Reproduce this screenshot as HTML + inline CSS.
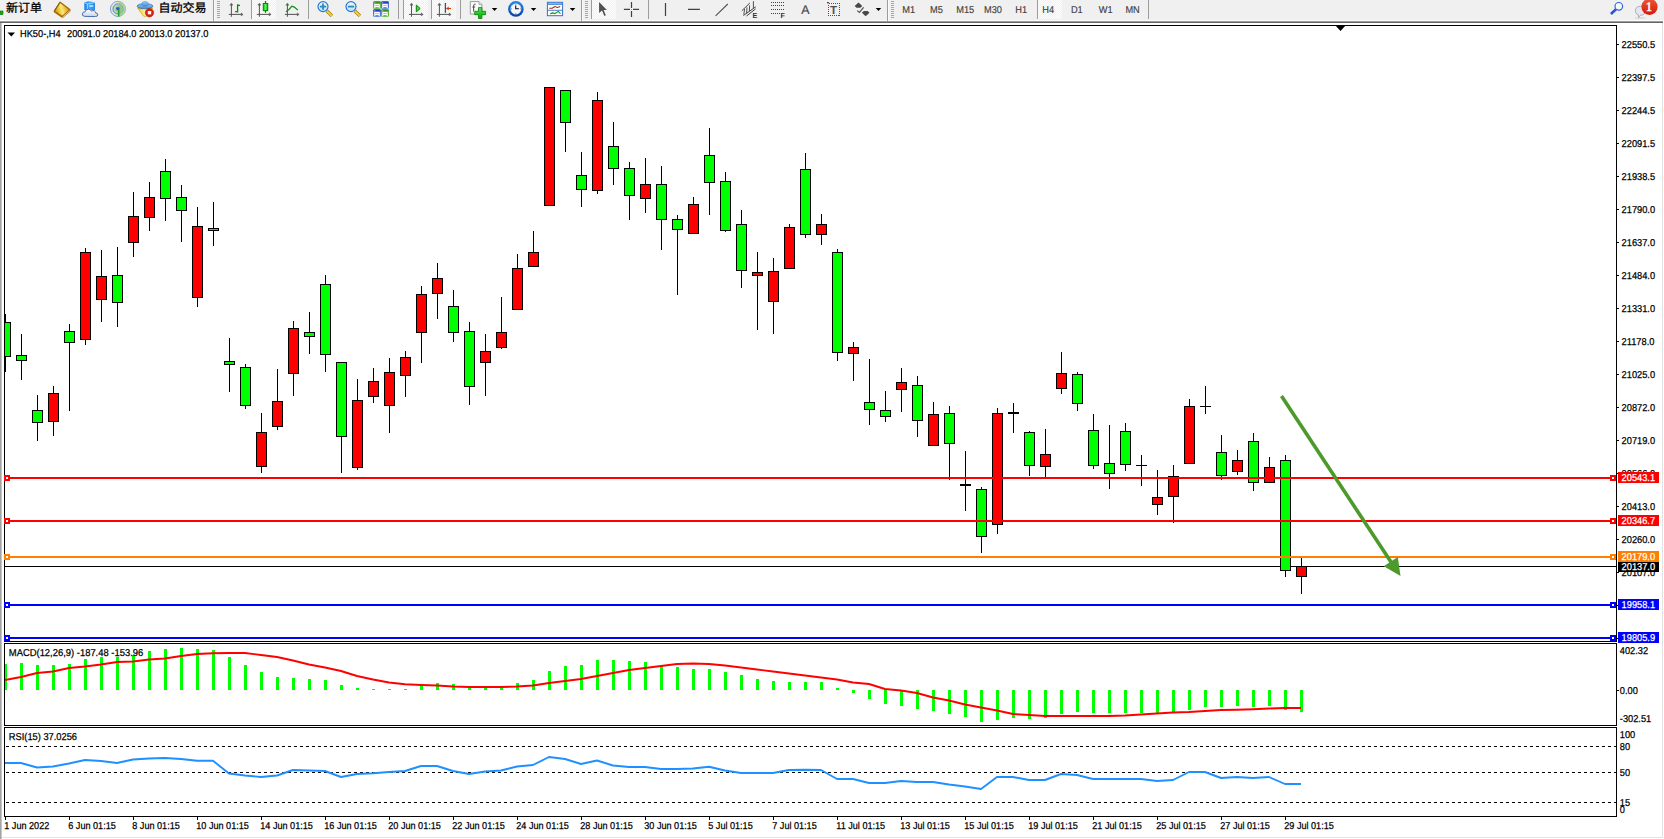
<!DOCTYPE html><html><head><meta charset="utf-8"><title>HK50-,H4</title>
<style>
html,body{margin:0;padding:0;background:#fff;}
body{width:1664px;height:839px;overflow:hidden;position:relative;font-family:"Liberation Sans","Noto Sans CJK SC",sans-serif;}
svg{position:absolute;left:0;top:0;display:block}
text{font-family:"Liberation Sans","Noto Sans CJK SC",sans-serif;text-rendering:geometricPrecision}
.t{font-size:10px;fill:#000;stroke:#000;stroke-width:.25px}
.w{font-size:10px;fill:#fff;stroke:#fff;stroke-width:.25px}
.tf{font-size:10px;fill:#404040;stroke:#404040;stroke-width:.15px}
.cj{font-size:12px;fill:#000;stroke:#000;stroke-width:.3px;font-family:"Liberation Sans","Noto Sans CJK SC",sans-serif}
</style></head><body>
<svg width="1664" height="839" viewBox="0 0 1664 839">
<rect x="0" y="0" width="1664" height="839" fill="#fff"/>
<rect x="0" y="0" width="1664" height="21" fill="#f0f0f0"/>
<g shape-rendering="crispEdges">
<rect x="0" y="20" width="1664" height="1" fill="#fbfbfb"/><rect x="0" y="21" width="1663" height="1" fill="#9c9c9c"/><rect x="0" y="22" width="1663" height="1" fill="#666666"/>
<rect x="0" y="23" width="1" height="816" fill="#a4a4a4"/><rect x="1" y="23" width="1" height="816" fill="#c6c6c6"/>
<rect x="1662" y="23" width="1" height="815" fill="#e3e3e3"/>
<rect x="2" y="837" width="1661" height="1" fill="#e3e3e3"/>
<path d="M4.5 25.5H1616.5V641.5H4.5Z" fill="none" stroke="#000" stroke-width="1"/>
<path d="M4.5 643.5H1616.5V725.5H4.5Z" fill="none" stroke="#000" stroke-width="1"/>
<path d="M4.5 727.5H1616.5V816.5H4.5Z" fill="none" stroke="#000" stroke-width="1"/>
</g>
<g shape-rendering="crispEdges">
<rect x="5" y="566" width="1611" height="1" fill="#000"/>
<clipPath id="cp"><rect x="5" y="26" width="1611" height="615"/></clipPath><g clip-path="url(#cp)">
<rect x="5" y="314" width="1" height="58" fill="#000"/>
<rect x="0" y="322" width="11" height="35" fill="#000"/>
<rect x="1" y="323" width="9" height="33" fill="#00ff00"/>
<rect x="21" y="334" width="1" height="46" fill="#000"/>
<rect x="16" y="355" width="11" height="6" fill="#000"/>
<rect x="17" y="356" width="9" height="4" fill="#00ff00"/>
<rect x="37" y="395" width="1" height="46" fill="#000"/>
<rect x="32" y="410" width="11" height="13" fill="#000"/>
<rect x="33" y="411" width="9" height="11" fill="#00ff00"/>
<rect x="53" y="386" width="1" height="50" fill="#000"/>
<rect x="48" y="393" width="11" height="29" fill="#000"/>
<rect x="49" y="394" width="9" height="27" fill="#ff0000"/>
<rect x="69" y="324" width="1" height="87" fill="#000"/>
<rect x="64" y="331" width="11" height="12" fill="#000"/>
<rect x="65" y="332" width="9" height="10" fill="#00ff00"/>
<rect x="85" y="248" width="1" height="97" fill="#000"/>
<rect x="80" y="252" width="11" height="88" fill="#000"/>
<rect x="81" y="253" width="9" height="86" fill="#ff0000"/>
<rect x="101" y="250" width="1" height="72" fill="#000"/>
<rect x="96" y="276" width="11" height="24" fill="#000"/>
<rect x="97" y="277" width="9" height="22" fill="#ff0000"/>
<rect x="117" y="247" width="1" height="80" fill="#000"/>
<rect x="112" y="275" width="11" height="28" fill="#000"/>
<rect x="113" y="276" width="9" height="26" fill="#00ff00"/>
<rect x="133" y="192" width="1" height="65" fill="#000"/>
<rect x="128" y="216" width="11" height="27" fill="#000"/>
<rect x="129" y="217" width="9" height="25" fill="#ff0000"/>
<rect x="149" y="182" width="1" height="49" fill="#000"/>
<rect x="144" y="197" width="11" height="21" fill="#000"/>
<rect x="145" y="198" width="9" height="19" fill="#ff0000"/>
<rect x="165" y="159" width="1" height="62" fill="#000"/>
<rect x="160" y="171" width="11" height="28" fill="#000"/>
<rect x="161" y="172" width="9" height="26" fill="#00ff00"/>
<rect x="181" y="185" width="1" height="57" fill="#000"/>
<rect x="176" y="197" width="11" height="14" fill="#000"/>
<rect x="177" y="198" width="9" height="12" fill="#00ff00"/>
<rect x="197" y="207" width="1" height="100" fill="#000"/>
<rect x="192" y="226" width="11" height="72" fill="#000"/>
<rect x="193" y="227" width="9" height="70" fill="#ff0000"/>
<rect x="213" y="202" width="1" height="44" fill="#000"/>
<rect x="208" y="228" width="11" height="3" fill="#000"/>
<rect x="209" y="229" width="9" height="1" fill="#00ff00"/>
<rect x="229" y="338" width="1" height="54" fill="#000"/>
<rect x="224" y="361" width="11" height="4" fill="#000"/>
<rect x="225" y="362" width="9" height="2" fill="#00ff00"/>
<rect x="245" y="364" width="1" height="45" fill="#000"/>
<rect x="240" y="367" width="11" height="39" fill="#000"/>
<rect x="241" y="368" width="9" height="37" fill="#00ff00"/>
<rect x="261" y="413" width="1" height="60" fill="#000"/>
<rect x="256" y="432" width="11" height="35" fill="#000"/>
<rect x="257" y="433" width="9" height="33" fill="#ff0000"/>
<rect x="277" y="369" width="1" height="61" fill="#000"/>
<rect x="272" y="401" width="11" height="26" fill="#000"/>
<rect x="273" y="402" width="9" height="24" fill="#ff0000"/>
<rect x="293" y="321" width="1" height="75" fill="#000"/>
<rect x="288" y="328" width="11" height="46" fill="#000"/>
<rect x="289" y="329" width="9" height="44" fill="#ff0000"/>
<rect x="309" y="312" width="1" height="42" fill="#000"/>
<rect x="304" y="332" width="11" height="5" fill="#000"/>
<rect x="305" y="333" width="9" height="3" fill="#00ff00"/>
<rect x="325" y="275" width="1" height="97" fill="#000"/>
<rect x="320" y="284" width="11" height="71" fill="#000"/>
<rect x="321" y="285" width="9" height="69" fill="#00ff00"/>
<rect x="341" y="362" width="1" height="111" fill="#000"/>
<rect x="336" y="362" width="11" height="75" fill="#000"/>
<rect x="337" y="363" width="9" height="73" fill="#00ff00"/>
<rect x="357" y="379" width="1" height="91" fill="#000"/>
<rect x="352" y="400" width="11" height="68" fill="#000"/>
<rect x="353" y="401" width="9" height="66" fill="#ff0000"/>
<rect x="373" y="368" width="1" height="35" fill="#000"/>
<rect x="368" y="381" width="11" height="16" fill="#000"/>
<rect x="369" y="382" width="9" height="14" fill="#ff0000"/>
<rect x="389" y="358" width="1" height="75" fill="#000"/>
<rect x="384" y="372" width="11" height="34" fill="#000"/>
<rect x="385" y="373" width="9" height="32" fill="#ff0000"/>
<rect x="405" y="351" width="1" height="46" fill="#000"/>
<rect x="400" y="357" width="11" height="19" fill="#000"/>
<rect x="401" y="358" width="9" height="17" fill="#ff0000"/>
<rect x="421" y="286" width="1" height="77" fill="#000"/>
<rect x="416" y="294" width="11" height="39" fill="#000"/>
<rect x="417" y="295" width="9" height="37" fill="#ff0000"/>
<rect x="437" y="263" width="1" height="56" fill="#000"/>
<rect x="432" y="278" width="11" height="16" fill="#000"/>
<rect x="433" y="279" width="9" height="14" fill="#ff0000"/>
<rect x="453" y="290" width="1" height="52" fill="#000"/>
<rect x="448" y="306" width="11" height="27" fill="#000"/>
<rect x="449" y="307" width="9" height="25" fill="#00ff00"/>
<rect x="469" y="322" width="1" height="83" fill="#000"/>
<rect x="464" y="331" width="11" height="56" fill="#000"/>
<rect x="465" y="332" width="9" height="54" fill="#00ff00"/>
<rect x="485" y="334" width="1" height="62" fill="#000"/>
<rect x="480" y="351" width="11" height="12" fill="#000"/>
<rect x="481" y="352" width="9" height="10" fill="#ff0000"/>
<rect x="501" y="297" width="1" height="52" fill="#000"/>
<rect x="496" y="332" width="11" height="16" fill="#000"/>
<rect x="497" y="333" width="9" height="14" fill="#ff0000"/>
<rect x="517" y="254" width="1" height="56" fill="#000"/>
<rect x="512" y="268" width="11" height="42" fill="#000"/>
<rect x="513" y="269" width="9" height="40" fill="#ff0000"/>
<rect x="533" y="231" width="1" height="36" fill="#000"/>
<rect x="528" y="252" width="11" height="15" fill="#000"/>
<rect x="529" y="253" width="9" height="13" fill="#ff0000"/>
<rect x="549" y="87" width="1" height="119" fill="#000"/>
<rect x="544" y="87" width="11" height="119" fill="#000"/>
<rect x="545" y="88" width="9" height="117" fill="#ff0000"/>
<rect x="565" y="90" width="1" height="62" fill="#000"/>
<rect x="560" y="90" width="11" height="33" fill="#000"/>
<rect x="561" y="91" width="9" height="31" fill="#00ff00"/>
<rect x="581" y="152" width="1" height="55" fill="#000"/>
<rect x="576" y="175" width="11" height="15" fill="#000"/>
<rect x="577" y="176" width="9" height="13" fill="#00ff00"/>
<rect x="597" y="92" width="1" height="102" fill="#000"/>
<rect x="592" y="100" width="11" height="91" fill="#000"/>
<rect x="593" y="101" width="9" height="89" fill="#ff0000"/>
<rect x="613" y="122" width="1" height="63" fill="#000"/>
<rect x="608" y="146" width="11" height="23" fill="#000"/>
<rect x="609" y="147" width="9" height="21" fill="#00ff00"/>
<rect x="629" y="162" width="1" height="58" fill="#000"/>
<rect x="624" y="168" width="11" height="28" fill="#000"/>
<rect x="625" y="169" width="9" height="26" fill="#00ff00"/>
<rect x="645" y="158" width="1" height="55" fill="#000"/>
<rect x="640" y="184" width="11" height="15" fill="#000"/>
<rect x="641" y="185" width="9" height="13" fill="#ff0000"/>
<rect x="661" y="166" width="1" height="84" fill="#000"/>
<rect x="656" y="184" width="11" height="36" fill="#000"/>
<rect x="657" y="185" width="9" height="34" fill="#00ff00"/>
<rect x="677" y="215" width="1" height="80" fill="#000"/>
<rect x="672" y="219" width="11" height="11" fill="#000"/>
<rect x="673" y="220" width="9" height="9" fill="#00ff00"/>
<rect x="693" y="197" width="1" height="37" fill="#000"/>
<rect x="688" y="204" width="11" height="30" fill="#000"/>
<rect x="689" y="205" width="9" height="28" fill="#ff0000"/>
<rect x="709" y="128" width="1" height="87" fill="#000"/>
<rect x="704" y="155" width="11" height="28" fill="#000"/>
<rect x="705" y="156" width="9" height="26" fill="#00ff00"/>
<rect x="725" y="172" width="1" height="60" fill="#000"/>
<rect x="720" y="181" width="11" height="50" fill="#000"/>
<rect x="721" y="182" width="9" height="48" fill="#00ff00"/>
<rect x="741" y="210" width="1" height="78" fill="#000"/>
<rect x="736" y="224" width="11" height="47" fill="#000"/>
<rect x="737" y="225" width="9" height="45" fill="#00ff00"/>
<rect x="757" y="252" width="1" height="78" fill="#000"/>
<rect x="752" y="272" width="11" height="4" fill="#000"/>
<rect x="753" y="273" width="9" height="2" fill="#ff0000"/>
<rect x="773" y="258" width="1" height="76" fill="#000"/>
<rect x="768" y="271" width="11" height="31" fill="#000"/>
<rect x="769" y="272" width="9" height="29" fill="#ff0000"/>
<rect x="789" y="224" width="1" height="45" fill="#000"/>
<rect x="784" y="227" width="11" height="42" fill="#000"/>
<rect x="785" y="228" width="9" height="40" fill="#ff0000"/>
<rect x="805" y="153" width="1" height="85" fill="#000"/>
<rect x="800" y="169" width="11" height="66" fill="#000"/>
<rect x="801" y="170" width="9" height="64" fill="#00ff00"/>
<rect x="821" y="214" width="1" height="31" fill="#000"/>
<rect x="816" y="224" width="11" height="11" fill="#000"/>
<rect x="817" y="225" width="9" height="9" fill="#ff0000"/>
<rect x="837" y="249" width="1" height="112" fill="#000"/>
<rect x="832" y="252" width="11" height="101" fill="#000"/>
<rect x="833" y="253" width="9" height="99" fill="#00ff00"/>
<rect x="853" y="342" width="1" height="39" fill="#000"/>
<rect x="848" y="347" width="11" height="7" fill="#000"/>
<rect x="849" y="348" width="9" height="5" fill="#ff0000"/>
<rect x="869" y="359" width="1" height="66" fill="#000"/>
<rect x="864" y="402" width="11" height="8" fill="#000"/>
<rect x="865" y="403" width="9" height="6" fill="#00ff00"/>
<rect x="885" y="391" width="1" height="31" fill="#000"/>
<rect x="880" y="410" width="11" height="7" fill="#000"/>
<rect x="881" y="411" width="9" height="5" fill="#00ff00"/>
<rect x="901" y="368" width="1" height="44" fill="#000"/>
<rect x="896" y="382" width="11" height="8" fill="#000"/>
<rect x="897" y="383" width="9" height="6" fill="#ff0000"/>
<rect x="917" y="376" width="1" height="61" fill="#000"/>
<rect x="912" y="385" width="11" height="36" fill="#000"/>
<rect x="913" y="386" width="9" height="34" fill="#00ff00"/>
<rect x="933" y="402" width="1" height="44" fill="#000"/>
<rect x="928" y="414" width="11" height="32" fill="#000"/>
<rect x="929" y="415" width="9" height="30" fill="#ff0000"/>
<rect x="949" y="406" width="1" height="74" fill="#000"/>
<rect x="944" y="413" width="11" height="31" fill="#000"/>
<rect x="945" y="414" width="9" height="29" fill="#00ff00"/>
<rect x="965" y="451" width="1" height="60" fill="#000"/>
<rect x="960" y="484" width="11" height="2" fill="#000"/>
<rect x="981" y="487" width="1" height="66" fill="#000"/>
<rect x="976" y="489" width="11" height="48" fill="#000"/>
<rect x="977" y="490" width="9" height="46" fill="#00ff00"/>
<rect x="997" y="408" width="1" height="126" fill="#000"/>
<rect x="992" y="413" width="11" height="112" fill="#000"/>
<rect x="993" y="414" width="9" height="110" fill="#ff0000"/>
<rect x="1013" y="403" width="1" height="30" fill="#000"/>
<rect x="1008" y="412" width="11" height="2" fill="#000"/>
<rect x="1029" y="431" width="1" height="45" fill="#000"/>
<rect x="1024" y="432" width="11" height="34" fill="#000"/>
<rect x="1025" y="433" width="9" height="32" fill="#00ff00"/>
<rect x="1045" y="429" width="1" height="48" fill="#000"/>
<rect x="1040" y="454" width="11" height="13" fill="#000"/>
<rect x="1041" y="455" width="9" height="11" fill="#ff0000"/>
<rect x="1061" y="352" width="1" height="42" fill="#000"/>
<rect x="1056" y="373" width="11" height="16" fill="#000"/>
<rect x="1057" y="374" width="9" height="14" fill="#ff0000"/>
<rect x="1077" y="372" width="1" height="39" fill="#000"/>
<rect x="1072" y="374" width="11" height="30" fill="#000"/>
<rect x="1073" y="375" width="9" height="28" fill="#00ff00"/>
<rect x="1093" y="414" width="1" height="55" fill="#000"/>
<rect x="1088" y="430" width="11" height="36" fill="#000"/>
<rect x="1089" y="431" width="9" height="34" fill="#00ff00"/>
<rect x="1109" y="425" width="1" height="64" fill="#000"/>
<rect x="1104" y="463" width="11" height="11" fill="#000"/>
<rect x="1105" y="464" width="9" height="9" fill="#00ff00"/>
<rect x="1125" y="423" width="1" height="48" fill="#000"/>
<rect x="1120" y="431" width="11" height="34" fill="#000"/>
<rect x="1121" y="432" width="9" height="32" fill="#00ff00"/>
<rect x="1141" y="455" width="1" height="31" fill="#000"/>
<rect x="1136" y="465" width="11" height="1" fill="#000"/>
<rect x="1157" y="470" width="1" height="45" fill="#000"/>
<rect x="1152" y="497" width="11" height="8" fill="#000"/>
<rect x="1153" y="498" width="9" height="6" fill="#ff0000"/>
<rect x="1173" y="465" width="1" height="58" fill="#000"/>
<rect x="1168" y="476" width="11" height="21" fill="#000"/>
<rect x="1169" y="477" width="9" height="19" fill="#ff0000"/>
<rect x="1189" y="399" width="1" height="65" fill="#000"/>
<rect x="1184" y="406" width="11" height="58" fill="#000"/>
<rect x="1185" y="407" width="9" height="56" fill="#ff0000"/>
<rect x="1205" y="386" width="1" height="28" fill="#000"/>
<rect x="1200" y="406" width="11" height="1" fill="#000"/>
<rect x="1221" y="435" width="1" height="45" fill="#000"/>
<rect x="1216" y="452" width="11" height="24" fill="#000"/>
<rect x="1217" y="453" width="9" height="22" fill="#00ff00"/>
<rect x="1237" y="450" width="1" height="25" fill="#000"/>
<rect x="1232" y="460" width="11" height="12" fill="#000"/>
<rect x="1233" y="461" width="9" height="10" fill="#ff0000"/>
<rect x="1253" y="433" width="1" height="58" fill="#000"/>
<rect x="1248" y="441" width="11" height="42" fill="#000"/>
<rect x="1249" y="442" width="9" height="40" fill="#00ff00"/>
<rect x="1269" y="457" width="1" height="26" fill="#000"/>
<rect x="1264" y="467" width="11" height="16" fill="#000"/>
<rect x="1265" y="468" width="9" height="14" fill="#ff0000"/>
<rect x="1285" y="455" width="1" height="122" fill="#000"/>
<rect x="1280" y="460" width="11" height="111" fill="#000"/>
<rect x="1281" y="461" width="9" height="109" fill="#00ff00"/>
<rect x="1301" y="558" width="1" height="36" fill="#000"/>
<rect x="1296" y="566" width="11" height="11" fill="#000"/>
<rect x="1297" y="567" width="9" height="9" fill="#ff0000"/>
</g>
<rect x="5" y="477" width="1611" height="2" fill="#ff0000"/>
<rect x="4" y="475" width="6" height="6" fill="#ff0000"/><rect x="6" y="477" width="2" height="2" fill="#fff"/>
<rect x="1610" y="475" width="6" height="6" fill="#ff0000"/><rect x="1612" y="477" width="2" height="2" fill="#fff"/>
<rect x="5" y="520" width="1611" height="2" fill="#ff0000"/>
<rect x="4" y="518" width="6" height="6" fill="#ff0000"/><rect x="6" y="520" width="2" height="2" fill="#fff"/>
<rect x="1610" y="518" width="6" height="6" fill="#ff0000"/><rect x="1612" y="520" width="2" height="2" fill="#fff"/>
<rect x="5" y="556" width="1611" height="2" fill="#ff8000"/>
<rect x="4" y="554" width="6" height="6" fill="#ff8000"/><rect x="6" y="556" width="2" height="2" fill="#fff"/>
<rect x="1610" y="554" width="6" height="6" fill="#ff8000"/><rect x="1612" y="556" width="2" height="2" fill="#fff"/>
<rect x="5" y="604" width="1611" height="2" fill="#0000ff"/>
<rect x="4" y="602" width="6" height="6" fill="#0000ff"/><rect x="6" y="604" width="2" height="2" fill="#fff"/>
<rect x="1610" y="602" width="6" height="6" fill="#0000ff"/><rect x="1612" y="604" width="2" height="2" fill="#fff"/>
<rect x="5" y="637" width="1611" height="2" fill="#0000ff"/>
<rect x="4" y="635" width="6" height="6" fill="#0000ff"/><rect x="6" y="637" width="2" height="2" fill="#fff"/>
<rect x="1610" y="635" width="6" height="6" fill="#0000ff"/><rect x="1612" y="637" width="2" height="2" fill="#fff"/>
</g>
<g><line x1="1281.5" y1="396" x2="1391" y2="562" stroke="#4c9a2a" stroke-width="3.6"/>
<polygon points="1400.5,576 1383.8,566.2 1397.8,557" fill="#4c9a2a"/></g>
<polygon points="1335.4,25.6 1345.6,25.6 1340.5,31.1" fill="#000"/>
<polygon points="7.5,32.5 15,32.5 11.25,36.5" fill="#000"/>
<g shape-rendering="crispEdges">
<rect x="5" y="664" width="2" height="26" fill="#00ff00"/>
<rect x="20" y="663" width="3" height="27" fill="#00ff00"/>
<rect x="36" y="665" width="3" height="25" fill="#00ff00"/>
<rect x="52" y="665" width="3" height="25" fill="#00ff00"/>
<rect x="68" y="664" width="3" height="26" fill="#00ff00"/>
<rect x="84" y="659" width="3" height="31" fill="#00ff00"/>
<rect x="100" y="657" width="3" height="33" fill="#00ff00"/>
<rect x="116" y="657" width="3" height="33" fill="#00ff00"/>
<rect x="132" y="655" width="3" height="35" fill="#00ff00"/>
<rect x="148" y="651" width="3" height="39" fill="#00ff00"/>
<rect x="164" y="649" width="3" height="41" fill="#00ff00"/>
<rect x="180" y="648" width="3" height="42" fill="#00ff00"/>
<rect x="196" y="649" width="3" height="41" fill="#00ff00"/>
<rect x="212" y="650" width="3" height="40" fill="#00ff00"/>
<rect x="228" y="657" width="3" height="33" fill="#00ff00"/>
<rect x="244" y="665" width="3" height="25" fill="#00ff00"/>
<rect x="260" y="672" width="3" height="18" fill="#00ff00"/>
<rect x="276" y="677" width="3" height="13" fill="#00ff00"/>
<rect x="292" y="678" width="3" height="12" fill="#00ff00"/>
<rect x="308" y="679" width="3" height="11" fill="#00ff00"/>
<rect x="324" y="680" width="3" height="10" fill="#00ff00"/>
<rect x="340" y="685" width="3" height="5" fill="#00ff00"/>
<rect x="356" y="688" width="3" height="2" fill="#00ff00"/>
<rect x="372" y="689" width="3" height="1" fill="#00ff00"/>
<rect x="388" y="689" width="3" height="1" fill="#00ff00"/>
<rect x="404" y="689" width="3" height="1" fill="#00ff00"/>
<rect x="420" y="685" width="3" height="5" fill="#00ff00"/>
<rect x="436" y="683" width="3" height="7" fill="#00ff00"/>
<rect x="452" y="684" width="3" height="6" fill="#00ff00"/>
<rect x="468" y="688" width="3" height="2" fill="#00ff00"/>
<rect x="484" y="688" width="3" height="2" fill="#00ff00"/>
<rect x="500" y="688" width="3" height="2" fill="#00ff00"/>
<rect x="516" y="683" width="3" height="7" fill="#00ff00"/>
<rect x="532" y="680" width="3" height="10" fill="#00ff00"/>
<rect x="548" y="671" width="3" height="19" fill="#00ff00"/>
<rect x="564" y="666" width="3" height="24" fill="#00ff00"/>
<rect x="580" y="665" width="3" height="25" fill="#00ff00"/>
<rect x="596" y="660" width="3" height="30" fill="#00ff00"/>
<rect x="612" y="660" width="3" height="30" fill="#00ff00"/>
<rect x="628" y="661" width="3" height="29" fill="#00ff00"/>
<rect x="644" y="662" width="3" height="28" fill="#00ff00"/>
<rect x="660" y="665" width="3" height="25" fill="#00ff00"/>
<rect x="676" y="667" width="3" height="23" fill="#00ff00"/>
<rect x="692" y="669" width="3" height="21" fill="#00ff00"/>
<rect x="708" y="669" width="3" height="21" fill="#00ff00"/>
<rect x="724" y="672" width="3" height="18" fill="#00ff00"/>
<rect x="740" y="675" width="3" height="15" fill="#00ff00"/>
<rect x="756" y="679" width="3" height="11" fill="#00ff00"/>
<rect x="772" y="681" width="3" height="9" fill="#00ff00"/>
<rect x="788" y="682" width="3" height="8" fill="#00ff00"/>
<rect x="804" y="682" width="3" height="8" fill="#00ff00"/>
<rect x="820" y="682" width="3" height="8" fill="#00ff00"/>
<rect x="836" y="688" width="3" height="2" fill="#00ff00"/>
<rect x="852" y="690" width="3" height="2.5" fill="#00ff00"/>
<rect x="868" y="690" width="3" height="9" fill="#00ff00"/>
<rect x="884" y="690" width="3" height="14" fill="#00ff00"/>
<rect x="900" y="690" width="3" height="16" fill="#00ff00"/>
<rect x="916" y="690" width="3" height="19" fill="#00ff00"/>
<rect x="932" y="690" width="3" height="21" fill="#00ff00"/>
<rect x="948" y="690" width="3" height="24" fill="#00ff00"/>
<rect x="964" y="690" width="3" height="27" fill="#00ff00"/>
<rect x="980" y="690" width="3" height="32" fill="#00ff00"/>
<rect x="996" y="690" width="3" height="30" fill="#00ff00"/>
<rect x="1012" y="690" width="3" height="28" fill="#00ff00"/>
<rect x="1028" y="690" width="3" height="29" fill="#00ff00"/>
<rect x="1044" y="690" width="3" height="28" fill="#00ff00"/>
<rect x="1060" y="690" width="3" height="24" fill="#00ff00"/>
<rect x="1076" y="690" width="3" height="22" fill="#00ff00"/>
<rect x="1092" y="690" width="3" height="23" fill="#00ff00"/>
<rect x="1108" y="690" width="3" height="23" fill="#00ff00"/>
<rect x="1124" y="690" width="3" height="23" fill="#00ff00"/>
<rect x="1140" y="690" width="3" height="23" fill="#00ff00"/>
<rect x="1156" y="690" width="3" height="23" fill="#00ff00"/>
<rect x="1172" y="690" width="3" height="22" fill="#00ff00"/>
<rect x="1188" y="690" width="3" height="20" fill="#00ff00"/>
<rect x="1204" y="690" width="3" height="17" fill="#00ff00"/>
<rect x="1220" y="690" width="3" height="17" fill="#00ff00"/>
<rect x="1236" y="690" width="3" height="16" fill="#00ff00"/>
<rect x="1252" y="690" width="3" height="17" fill="#00ff00"/>
<rect x="1268" y="690" width="3" height="16" fill="#00ff00"/>
<rect x="1284" y="690" width="3" height="20" fill="#00ff00"/>
<rect x="1300" y="690" width="3" height="22" fill="#00ff00"/>
</g>
<polyline points="5,680 21,677 37,673 53,671.5 69,668 85,666.5 101,664.5 117,662 133,661.5 149,659.5 165,658.5 181,656 197,654 213,653.25 229,653 245,653 261,655 277,657 293,660.5 309,664.5 325,667.5 341,671 357,676 373,679.5 389,682.5 405,684.2 421,685 437,685.5 453,686.5 469,687 485,687 501,687 517,686.5 533,685.5 549,683 565,681 581,679 597,676 613,673 629,670 645,668 661,666 677,664 693,663.5 709,664 725,665.5 741,667.5 757,669.5 773,671.5 789,673.5 805,675.5 821,677.5 837,679.5 853,682.5 869,684 885,689 901,690.5 917,693 933,697.5 949,700.5 965,704.5 981,707.5 997,710.5 1013,714 1029,715 1045,716 1061,716 1077,716 1093,716 1109,716 1125,715.5 1141,714.5 1157,713.5 1173,712.5 1189,712 1205,711 1221,710 1237,709.75 1253,709.25 1269,708.5 1285,708 1301,708" fill="none" stroke="#ff0000" stroke-width="1.9" stroke-linejoin="round"/>
<g shape-rendering="crispEdges">
<line x1="6" y1="746.5" x2="1616" y2="746.5" stroke="#000" stroke-width="1" stroke-dasharray="3 3"/>
<line x1="6" y1="772.5" x2="1616" y2="772.5" stroke="#000" stroke-width="1" stroke-dasharray="3 3"/>
<line x1="6" y1="802.5" x2="1616" y2="802.5" stroke="#000" stroke-width="1" stroke-dasharray="3 3"/>
</g>
<polyline points="5,763 21,763 37,767.5 53,766.5 69,763.5 85,760 101,761 117,763 133,759.5 149,758.5 165,758 181,759 197,760.75 213,760.75 229,773.5 245,775.5 261,777 277,775.5 293,770 309,770.5 325,771 341,777 357,774 373,773.25 389,772 405,771 421,766 437,766 453,771 469,774 485,771.5 501,770.5 517,766.5 533,765 549,757 565,759 581,764 597,760.5 613,765.5 629,767 645,767 661,769 677,769 693,768.5 709,766.75 725,770.5 741,773 757,773 773,773 789,770 805,769.7 821,770 837,779 853,779 869,783 885,783 901,781 917,782 933,782 949,784.5 965,786.5 981,789 997,777 1013,777 1029,780 1045,780 1061,774 1077,775 1093,779 1109,779 1125,779 1141,779 1157,781 1173,780 1189,772 1205,772 1221,778 1237,777 1253,778 1269,777 1285,784 1301,784" fill="none" stroke="#1e90ff" stroke-width="1.9" stroke-linejoin="round"/>
<g shape-rendering="crispEdges">
<rect x="1617" y="44" width="2" height="1" fill="#000"/>
<rect x="1617" y="77" width="2" height="1" fill="#000"/>
<rect x="1617" y="110" width="2" height="1" fill="#000"/>
<rect x="1617" y="143" width="2" height="1" fill="#000"/>
<rect x="1617" y="176" width="2" height="1" fill="#000"/>
<rect x="1617" y="209" width="2" height="1" fill="#000"/>
<rect x="1617" y="242" width="2" height="1" fill="#000"/>
<rect x="1617" y="275" width="2" height="1" fill="#000"/>
<rect x="1617" y="308" width="2" height="1" fill="#000"/>
<rect x="1617" y="341" width="2" height="1" fill="#000"/>
<rect x="1617" y="374" width="2" height="1" fill="#000"/>
<rect x="1617" y="407" width="2" height="1" fill="#000"/>
<rect x="1617" y="440" width="2" height="1" fill="#000"/>
<rect x="1617" y="473" width="2" height="1" fill="#000"/>
<rect x="1617" y="506" width="2" height="1" fill="#000"/>
<rect x="1617" y="539" width="2" height="1" fill="#000"/>
<rect x="1617" y="572" width="2" height="1" fill="#000"/>
<rect x="1617" y="605" width="2" height="1" fill="#000"/>
<rect x="1617" y="638" width="2" height="1" fill="#000"/>
<rect x="1617" y="690" width="2" height="1" fill="#000"/>
<rect x="5" y="817" width="1" height="3" fill="#000"/>
<rect x="69" y="817" width="1" height="3" fill="#000"/>
<rect x="133" y="817" width="1" height="3" fill="#000"/>
<rect x="197" y="817" width="1" height="3" fill="#000"/>
<rect x="261" y="817" width="1" height="3" fill="#000"/>
<rect x="325" y="817" width="1" height="3" fill="#000"/>
<rect x="389" y="817" width="1" height="3" fill="#000"/>
<rect x="453" y="817" width="1" height="3" fill="#000"/>
<rect x="517" y="817" width="1" height="3" fill="#000"/>
<rect x="581" y="817" width="1" height="3" fill="#000"/>
<rect x="645" y="817" width="1" height="3" fill="#000"/>
<rect x="709" y="817" width="1" height="3" fill="#000"/>
<rect x="773" y="817" width="1" height="3" fill="#000"/>
<rect x="837" y="817" width="1" height="3" fill="#000"/>
<rect x="901" y="817" width="1" height="3" fill="#000"/>
<rect x="965" y="817" width="1" height="3" fill="#000"/>
<rect x="1029" y="817" width="1" height="3" fill="#000"/>
<rect x="1093" y="817" width="1" height="3" fill="#000"/>
<rect x="1157" y="817" width="1" height="3" fill="#000"/>
<rect x="1221" y="817" width="1" height="3" fill="#000"/>
<rect x="1285" y="817" width="1" height="3" fill="#000"/>
</g>
<text class="t" transform="translate(1621.6,48) scale(0.925,1)">22550.5</text>
<text class="t" transform="translate(1621.6,81) scale(0.925,1)">22397.5</text>
<text class="t" transform="translate(1621.6,114) scale(0.925,1)">22244.5</text>
<text class="t" transform="translate(1621.6,147) scale(0.925,1)">22091.5</text>
<text class="t" transform="translate(1621.6,180) scale(0.925,1)">21938.5</text>
<text class="t" transform="translate(1621.6,213) scale(0.925,1)">21790.0</text>
<text class="t" transform="translate(1621.6,246) scale(0.925,1)">21637.0</text>
<text class="t" transform="translate(1621.6,279) scale(0.925,1)">21484.0</text>
<text class="t" transform="translate(1621.6,312) scale(0.925,1)">21331.0</text>
<text class="t" transform="translate(1621.6,345) scale(0.925,1)">21178.0</text>
<text class="t" transform="translate(1621.6,378) scale(0.925,1)">21025.0</text>
<text class="t" transform="translate(1621.6,411) scale(0.925,1)">20872.0</text>
<text class="t" transform="translate(1621.6,444) scale(0.925,1)">20719.0</text>
<text class="t" transform="translate(1621.6,477) scale(0.925,1)">20566.0</text>
<text class="t" transform="translate(1621.6,510) scale(0.925,1)">20413.0</text>
<text class="t" transform="translate(1621.6,543) scale(0.925,1)">20260.0</text>
<text class="t" transform="translate(1621.6,576) scale(0.925,1)">20107.0</text>
<rect x="1618" y="472" width="41" height="11" fill="#ff0000" shape-rendering="crispEdges"/>
<text class="w" transform="translate(1621.6,481) scale(0.925,1)">20543.1</text>
<rect x="1618" y="515" width="41" height="11" fill="#ff0000" shape-rendering="crispEdges"/>
<text class="w" transform="translate(1621.6,524) scale(0.925,1)">20346.7</text>
<rect x="1618" y="561" width="41" height="11" fill="#000000" shape-rendering="crispEdges"/>
<text class="w" transform="translate(1621.6,570) scale(0.925,1)">20137.0</text>
<rect x="1618" y="551" width="41" height="11" fill="#ff8000" shape-rendering="crispEdges"/>
<text class="w" transform="translate(1621.6,560) scale(0.925,1)">20179.0</text>
<rect x="1618" y="599" width="41" height="11" fill="#0000ff" shape-rendering="crispEdges"/>
<text class="w" transform="translate(1621.6,608) scale(0.925,1)">19958.1</text>
<rect x="1618" y="632" width="41" height="11" fill="#0000ff" shape-rendering="crispEdges"/>
<text class="w" transform="translate(1621.6,641) scale(0.925,1)">19805.9</text>
<text class="t" transform="translate(1619.8,654) scale(0.925,1)">402.32</text>
<text class="t" transform="translate(1619.8,693.9) scale(0.925,1)">0.00</text>
<text class="t" transform="translate(1619.8,722) scale(0.925,1)">-302.51</text>
<text class="t" transform="translate(1619.8,737.8) scale(0.925,1)">100</text>
<text class="t" transform="translate(1619.8,749.9) scale(0.925,1)">80</text>
<text class="t" transform="translate(1619.8,775.9) scale(0.925,1)">50</text>
<text class="t" transform="translate(1619.8,805.9) scale(0.925,1)">15</text>
<text class="t" transform="translate(1619.8,813) scale(0.925,1)">0</text>
<text class="t" transform="translate(20,37) scale(0.925,1)">HK50-,H4</text>
<text class="t" transform="translate(67,37) scale(0.925,1)">20091.0 20184.0 20013.0 20137.0</text>
<text class="t" transform="translate(8.8,655.7) scale(0.941,1)">MACD(12,26,9) -187.48 -153.96</text>
<text class="t" transform="translate(8.8,740) scale(0.93,1)">RSI(15) 37.0256</text>
<text class="t" transform="translate(4.3,829) scale(0.908,1)">1 Jun 2022</text>
<text class="t" transform="translate(68.3,829) scale(0.908,1)">6 Jun 01:15</text>
<text class="t" transform="translate(132.3,829) scale(0.908,1)">8 Jun 01:15</text>
<text class="t" transform="translate(196.3,829) scale(0.908,1)">10 Jun 01:15</text>
<text class="t" transform="translate(260.3,829) scale(0.908,1)">14 Jun 01:15</text>
<text class="t" transform="translate(324.3,829) scale(0.908,1)">16 Jun 01:15</text>
<text class="t" transform="translate(388.3,829) scale(0.908,1)">20 Jun 01:15</text>
<text class="t" transform="translate(452.3,829) scale(0.908,1)">22 Jun 01:15</text>
<text class="t" transform="translate(516.3,829) scale(0.908,1)">24 Jun 01:15</text>
<text class="t" transform="translate(580.3,829) scale(0.908,1)">28 Jun 01:15</text>
<text class="t" transform="translate(644.3,829) scale(0.908,1)">30 Jun 01:15</text>
<text class="t" transform="translate(708.3,829) scale(0.908,1)">5 Jul 01:15</text>
<text class="t" transform="translate(772.3,829) scale(0.908,1)">7 Jul 01:15</text>
<text class="t" transform="translate(836.3,829) scale(0.908,1)">11 Jul 01:15</text>
<text class="t" transform="translate(900.3,829) scale(0.908,1)">13 Jul 01:15</text>
<text class="t" transform="translate(964.3,829) scale(0.908,1)">15 Jul 01:15</text>
<text class="t" transform="translate(1028.3,829) scale(0.908,1)">19 Jul 01:15</text>
<text class="t" transform="translate(1092.3,829) scale(0.908,1)">21 Jul 01:15</text>
<text class="t" transform="translate(1156.3,829) scale(0.908,1)">25 Jul 01:15</text>
<text class="t" transform="translate(1220.3,829) scale(0.908,1)">27 Jul 01:15</text>
<text class="t" transform="translate(1284.3,829) scale(0.908,1)">29 Jul 01:15</text>
<defs>
<linearGradient id="gGold" x1="0" y1=".65" x2="1" y2=".35"><stop offset="0" stop-color="#c08010"/><stop offset=".22" stop-color="#e8b828"/><stop offset=".5" stop-color="#fae878"/><stop offset=".8" stop-color="#e4ac20"/><stop offset="1" stop-color="#c88c10"/></linearGradient>
<linearGradient id="gBlueBox" x1="0" y1="0" x2="1" y2="0"><stop offset="0" stop-color="#1880f0"/><stop offset=".5" stop-color="#40a8ff"/><stop offset="1" stop-color="#2088e8"/></linearGradient>
<linearGradient id="gCloud" x1="0" y1="0" x2="0" y2="1"><stop offset="0" stop-color="#ffffff"/><stop offset="1" stop-color="#c8d4ec"/></linearGradient>
<linearGradient id="gGreenC" x1="0" y1="0" x2="1" y2="0"><stop offset="0" stop-color="#00c000"/><stop offset=".5" stop-color="#60f060"/><stop offset="1" stop-color="#00b000"/></linearGradient>
<linearGradient id="gPlus" x1="0" y1="0" x2="0" y2="1"><stop offset="0" stop-color="#50e850"/><stop offset="1" stop-color="#00a800"/></linearGradient>
<linearGradient id="gClock" x1="0" y1="0" x2="0" y2="1"><stop offset="0" stop-color="#2088f0"/><stop offset="1" stop-color="#0840a0"/></linearGradient>
<linearGradient id="gBadge" x1="0" y1="0" x2="0" y2="1"><stop offset="0" stop-color="#ec5838"/><stop offset="1" stop-color="#d41808"/></linearGradient>
<linearGradient id="gHat" x1="0" y1="0" x2="0" y2="1"><stop offset="0" stop-color="#98ccf4"/><stop offset="1" stop-color="#3c8cd8"/></linearGradient>
<linearGradient id="gCone" x1="0" y1="0" x2="1" y2="0"><stop offset="0" stop-color="#f0c020"/><stop offset=".5" stop-color="#fff0a0"/><stop offset="1" stop-color="#e8b018"/></linearGradient>
<linearGradient id="gTG" x1="0" y1="0" x2="0" y2="1"><stop offset="0" stop-color="#2c8c10"/><stop offset="1" stop-color="#48b020"/></linearGradient>
<linearGradient id="gTB" x1="0" y1="0" x2="0" y2="1"><stop offset="0" stop-color="#1838b8"/><stop offset="1" stop-color="#3870e8"/></linearGradient>
<linearGradient id="gLens" x1="0" y1="0" x2="0" y2="1"><stop offset="0" stop-color="#f0faff"/><stop offset="1" stop-color="#b8e0f8"/></linearGradient>
<radialGradient id="gSig" cx=".5" cy=".5" r=".5"><stop offset="0" stop-color="#70b070"/><stop offset="1" stop-color="#c8e0c8" stop-opacity=".3"/></radialGradient>
<pattern id="chk" width="2" height="2" patternUnits="userSpaceOnUse"><rect width="2" height="2" fill="#f0f0f0"/><rect width="1" height="1" fill="#fff"/><rect x="1" y="1" width="1" height="1" fill="#fff"/></pattern>
</defs>
<g id="toolbar">
<g shape-rendering="crispEdges">
<rect x="252" y="0" width="24" height="19" fill="url(#chk)"/>
<rect x="404" y="0" width="24" height="19" fill="url(#chk)"/>
<rect x="432" y="0" width="24" height="19" fill="url(#chk)"/>
<rect x="592" y="0" width="23.600000000000023" height="19" fill="url(#chk)"/>
<rect x="1038" y="0" width="24" height="19" fill="url(#chk)"/>
<rect x="251" y="0" width="1" height="19" fill="#9c9c9c"/>
<rect x="308" y="0" width="1" height="19" fill="#9c9c9c"/>
<rect x="398" y="0" width="1" height="19" fill="#9c9c9c"/>
<rect x="403" y="0" width="1" height="19" fill="#9c9c9c"/>
<rect x="431" y="0" width="1" height="19" fill="#9c9c9c"/>
<rect x="460" y="0" width="1" height="19" fill="#9c9c9c"/>
<rect x="591" y="0" width="1" height="19" fill="#9c9c9c"/>
<rect x="648" y="0" width="1" height="19" fill="#9c9c9c"/>
<rect x="1037" y="0" width="1" height="19" fill="#9c9c9c"/>
<rect x="1148" y="0" width="1" height="19" fill="#9c9c9c"/>
<rect x="213" y="0" width="1" height="21" fill="#9c9c9c"/>
<rect x="214" y="0" width="1" height="21" fill="#fafafa"/>
<rect x="581" y="0" width="1" height="21" fill="#9c9c9c"/>
<rect x="582" y="0" width="1" height="21" fill="#fafafa"/>
<rect x="887" y="0" width="1" height="21" fill="#9c9c9c"/>
<rect x="888" y="0" width="1" height="21" fill="#fafafa"/>
<rect x="217" y="1" width="3" height="1" fill="#a8a8a8"/>
<rect x="217" y="3" width="3" height="1" fill="#a8a8a8"/>
<rect x="217" y="5" width="3" height="1" fill="#a8a8a8"/>
<rect x="217" y="7" width="3" height="1" fill="#a8a8a8"/>
<rect x="217" y="9" width="3" height="1" fill="#a8a8a8"/>
<rect x="217" y="11" width="3" height="1" fill="#a8a8a8"/>
<rect x="217" y="13" width="3" height="1" fill="#a8a8a8"/>
<rect x="217" y="15" width="3" height="1" fill="#a8a8a8"/>
<rect x="217" y="17" width="3" height="1" fill="#a8a8a8"/>
<rect x="585" y="1" width="3" height="1" fill="#a8a8a8"/>
<rect x="585" y="3" width="3" height="1" fill="#a8a8a8"/>
<rect x="585" y="5" width="3" height="1" fill="#a8a8a8"/>
<rect x="585" y="7" width="3" height="1" fill="#a8a8a8"/>
<rect x="585" y="9" width="3" height="1" fill="#a8a8a8"/>
<rect x="585" y="11" width="3" height="1" fill="#a8a8a8"/>
<rect x="585" y="13" width="3" height="1" fill="#a8a8a8"/>
<rect x="585" y="15" width="3" height="1" fill="#a8a8a8"/>
<rect x="585" y="17" width="3" height="1" fill="#a8a8a8"/>
<rect x="891" y="1" width="3" height="1" fill="#a8a8a8"/>
<rect x="891" y="3" width="3" height="1" fill="#a8a8a8"/>
<rect x="891" y="5" width="3" height="1" fill="#a8a8a8"/>
<rect x="891" y="7" width="3" height="1" fill="#a8a8a8"/>
<rect x="891" y="9" width="3" height="1" fill="#a8a8a8"/>
<rect x="891" y="11" width="3" height="1" fill="#a8a8a8"/>
<rect x="891" y="13" width="3" height="1" fill="#a8a8a8"/>
<rect x="891" y="15" width="3" height="1" fill="#a8a8a8"/>
<rect x="891" y="17" width="3" height="1" fill="#a8a8a8"/>
</g>
<rect x="0" y="11" width="3" height="3.6" fill="#10b010" stroke="#087808" stroke-width=".6"/>
<text class="cj" x="6" y="12">新订单</text>
<text class="cj" x="158.5" y="12">自动交易</text>
<g><polygon points="60.2,2.2 69.8,9.6 62,16.6 54.2,11.2" fill="url(#gGold)" stroke="#a06808" stroke-width="1.2" stroke-linejoin="round"/><path d="M62.2 16.5 L70 9.8 L70.2 11.2 L62.8 17.6 Z" fill="#e8d8a8" stroke="#a06808" stroke-width=".7"/><path d="M54.4 11.6 L62.3 17.2" stroke="#a86c08" stroke-width="1.5"/><path d="M59.9 2.3 Q57.6 6 54.4 11" fill="none" stroke="#8a5808" stroke-width=".9"/></g>
<g><path d="M84.3 2.6 L88.2 1.3 L95 2.2 L95 10 L84.3 10 Z" fill="url(#gBlueBox)"/><path d="M84.3 2.6 L87.4 4 L95 2.4" fill="none" stroke="#b8e0ff" stroke-width=".8"/><path d="M87.4 4 V10" stroke="#b8e0ff" stroke-width=".8"/><rect x="89.3" y="5.4" width="4" height="1.3" fill="#e8f4ff"/><path d="M84.8 16.4 Q82.1 16.2 82.3 13.8 Q82.7 11.8 85 11.9 Q85.6 9.1 88.6 9.2 Q90.8 9.4 91.5 11.2 Q92.8 10 94.4 10.8 Q95.6 11.5 95.5 12.8 Q98 13 97.8 15 Q97.6 16.5 95.6 16.5 Z" fill="url(#gCloud)" stroke="#4c6cac" stroke-width="1"/></g>
<g fill="none"><circle cx="118" cy="8.9" r="7.6" fill="url(#gSig)"/><path d="M118.6 1.4 A7.6 7.6 0 0 1 118.6 16.5 Z" fill="#58a858" opacity=".35" stroke="none"/><path d="M118 1.3 A7.6 7.6 0 0 0 118 16.5" stroke="#6088d0" stroke-width="1" opacity=".75"/><path d="M118 3.9 A5 5 0 0 0 118 13.9" stroke="#4878d0" stroke-width="1" opacity=".85"/><path d="M118 1.3 A7.6 7.6 0 0 1 118 16.5" stroke="#88b888" stroke-width="1" opacity=".8"/><path d="M118 3.9 A5 5 0 0 1 118 13.9" stroke="#78b078" stroke-width="1" opacity=".8"/><circle cx="117.8" cy="8.6" r="1.7" fill="#2858c8"/><rect x="117.9" y="9" width="1.5" height="7.6" fill="#20a020"/></g>
<g><path d="M137.6 8 L152.8 8 L146.2 16.6 L143.4 16 Z" fill="url(#gCone)" stroke="#d8a010" stroke-width=".7"/><ellipse cx="145" cy="6.2" rx="7.9" ry="2.6" fill="url(#gHat)" stroke="#2868b0" stroke-width=".7"/><ellipse cx="145" cy="4" rx="3.4" ry="2.5" fill="url(#gHat)" stroke="#4888cc" stroke-width=".5"/><circle cx="149.5" cy="12.7" r="4.2" fill="#d82010" stroke="#b01808" stroke-width=".5"/><rect x="147.8" y="11" width="3.4" height="3.4" fill="#fff"/></g>
<g stroke="#585858" stroke-width="1.05" fill="#585858"><path d="M231.4 4 V16.8" /><path d="M228.8 14.4 H241.4"/><path d="M229.8 5.2 L231.4 3 L233.0 5.2 Z" stroke-width=".3"/><path d="M241.1 12.8 L243.20000000000002 14.4 L241.1 16 Z" stroke-width=".3"/></g>
<path d="M237.6 4.2 V12.6 M237.6 5.3 H240 M235.1 11.6 H237.6" stroke="#009000" stroke-width="1.3" fill="none"/>
<g stroke="#585858" stroke-width="1.05" fill="#585858"><path d="M259.4 4 V16.8" /><path d="M256.79999999999995 14.4 H269.4"/><path d="M257.79999999999995 5.2 L259.4 3 L261.0 5.2 Z" stroke-width=".3"/><path d="M269.09999999999997 12.8 L271.2 14.4 L269.09999999999997 16 Z" stroke-width=".3"/></g>
<path d="M265.5 1.1 V12.8" stroke="#008000" stroke-width="1.3"/><rect x="263.2" y="3.5" width="4.6" height="7.2" fill="url(#gGreenC)" stroke="#008000" stroke-width=".9"/>
<g stroke="#585858" stroke-width="1.05" fill="#585858"><path d="M287.4 4 V16.8" /><path d="M284.79999999999995 14.4 H297.4"/><path d="M285.79999999999995 5.2 L287.4 3 L289.0 5.2 Z" stroke-width=".3"/><path d="M297.09999999999997 12.8 L299.2 14.4 L297.09999999999997 16 Z" stroke-width=".3"/></g>
<path d="M286 11.8 Q289.5 9.6 291.9 6.2 Q294.5 6.6 297.9 10.2" stroke="#109010" stroke-width="1.2" fill="none"/>
<g><path d="M326.9 11 L331.9 15.9" stroke="#a07808" stroke-width="3.4" stroke-linecap="butt"/><path d="M327.1 11.2 L331.7 15.7" stroke="#f0d040" stroke-width="2"/><circle cx="323" cy="6.6" r="5" fill="url(#gLens)" stroke="#2878d0" stroke-width="1.2"/><path d="M319.9 6.6 H326.1" stroke="#3088b8" stroke-width="1.8"/><path d="M323 3.5 V9.7" stroke="#3088b8" stroke-width="1.8"/></g>
<g><path d="M354.9 11 L359.9 15.9" stroke="#a07808" stroke-width="3.4" stroke-linecap="butt"/><path d="M355.1 11.2 L359.7 15.7" stroke="#f0d040" stroke-width="2"/><circle cx="351" cy="6.6" r="5" fill="url(#gLens)" stroke="#2878d0" stroke-width="1.2"/><path d="M347.9 6.6 H354.1" stroke="#3088b8" stroke-width="1.8"/></g>
<g><rect x="373.2" y="1.2" width="7.6" height="7.6" rx=".8" fill="url(#gTG)"/><path d="M374.2 8.2 V3.8 H379.8 V8.2 H378.7 V7.3 H375.3 V8.2 Z" fill="#fff"/><rect x="375.2" y="5.1" width="3.6" height=".8" fill="#80d060"/><rect x="374.3" y="2.4" width=".9" height=".9" fill="#e8f0ff"/></g>
<g><rect x="381.2" y="1.2" width="7.6" height="7.6" rx=".8" fill="url(#gTB)"/><path d="M382.2 8.2 V3.8 H387.8 V8.2 H386.7 V7.3 H383.3 V8.2 Z" fill="#fff"/><rect x="383.2" y="5.1" width="3.6" height=".8" fill="#90b0f8"/><rect x="382.3" y="2.4" width=".9" height=".9" fill="#e8f0ff"/></g>
<g><rect x="373.2" y="9.2" width="7.6" height="7.6" rx=".8" fill="url(#gTB)"/><path d="M374.2 16.2 V11.799999999999999 H379.8 V16.2 H378.7 V15.299999999999999 H375.3 V16.2 Z" fill="#fff"/><rect x="375.2" y="13.1" width="3.6" height=".8" fill="#90b0f8"/><rect x="374.3" y="10.399999999999999" width=".9" height=".9" fill="#e8f0ff"/></g>
<g><rect x="381.2" y="9.2" width="7.6" height="7.6" rx=".8" fill="url(#gTG)"/><path d="M382.2 16.2 V11.799999999999999 H387.8 V16.2 H386.7 V15.299999999999999 H383.3 V16.2 Z" fill="#fff"/><rect x="383.2" y="13.1" width="3.6" height=".8" fill="#80d060"/><rect x="382.3" y="10.399999999999999" width=".9" height=".9" fill="#e8f0ff"/></g>
<g stroke="#585858" stroke-width="1.05" fill="#585858"><path d="M411.5 4 V16.8" /><path d="M408.9 14.4 H421.5"/><path d="M409.9 5.2 L411.5 3 L413.1 5.2 Z" stroke-width=".3"/><path d="M421.2 12.8 L423.3 14.4 L421.2 16 Z" stroke-width=".3"/></g>
<polygon points="416.3,5 416.3,11.9 420.2,8.5" fill="#50d050" stroke="#008800" stroke-width="1" stroke-linejoin="round"/>
<g stroke="#585858" stroke-width="1.05" fill="#585858"><path d="M439.4 4 V16.8" /><path d="M436.79999999999995 14.4 H449.4"/><path d="M437.79999999999995 5.2 L439.4 3 L441.0 5.2 Z" stroke-width=".3"/><path d="M449.09999999999997 12.8 L451.2 14.4 L449.09999999999997 16 Z" stroke-width=".3"/></g>
<path d="M445.4 3 V12.9" stroke="#1060a0" stroke-width="1.3"/><path d="M446.4 8.5 H451" stroke="#d04000" stroke-width="1.2"/><polygon points="446.1,8.5 449,6.6 448.4,8.5 449,10.4" fill="#d04000"/>
<g><path d="M470.3 1.6 H479 L481.9 4.6 V14 H470.3 Z" fill="#fcfcfc" stroke="#909090" stroke-width=".9"/><path d="M479 1.6 V4.6 H481.9" fill="#e0e0e0" stroke="#909090" stroke-width=".7"/><path d="M475.6 4.2 Q473.6 3.6 473.6 6 V11.6 M472.4 7 H475.2" fill="none" stroke="#505038" stroke-width="1"/><path d="M478.5 7.6 H481.9 V11.3 H485.6 V14.7 H481.9 V18.5 H478.5 V14.7 H474.7 V11.3 H478.5 Z" fill="url(#gPlus)" stroke="#088008" stroke-width=".8"/></g>
<polygon points="491.8,8.1 497.3,8.1 494.55,10.95" fill="#000"/>
<g><circle cx="515.9" cy="8.9" r="7.8" fill="url(#gClock)"/><circle cx="515.9" cy="8.9" r="5.3" fill="#f4f6fa" stroke="#c0c8d8" stroke-width=".4"/><path d="M515.7 5.6 V8.7 H518.9" fill="none" stroke="#101010" stroke-width="1.1"/><g fill="#606878"><rect x="515.5" y="4.1" width=".8" height=".9"/><rect x="515.5" y="12.9" width=".8" height=".9"/><rect x="511.1" y="8.5" width=".9" height=".8"/><rect x="519.9" y="8.5" width=".9" height=".8"/></g></g>
<polygon points="530.8,8.1 536.3,8.1 533.55,10.95" fill="#000"/>
<g><rect x="547.4" y="2.3" width="15.2" height="13.4" fill="#fff" stroke="#3470c0" stroke-width="1"/><rect x="547.4" y="2.3" width="15.2" height="2.6" fill="#4888d8"/><rect x="548.2" y="2.9" width="13.6" height=".9" fill="#90c0f0"/><path d="M547.4 10.3 H562.6" stroke="#3470c0" stroke-width=".9"/><path d="M549.3 8.3 H552.2 L554.9 6.5 L557.5 7.4 L560.2 6.5" fill="none" stroke="#a02810" stroke-width="1.1"/><path d="M550.2 13.6 L552.9 12.9 L554.9 13.6 L558.2 11.4 L560.5 13.6" fill="none" stroke="#109020" stroke-width="1.1"/></g>
<polygon points="569.8,8.1 575.3,8.1 572.55,10.95" fill="#000"/>
<path d="M599.1 2 V12.9 L602 10.5 L604.4 15.9 L605.8 15.2 L603.6 9.9 H606.9 Z" fill="#505050"/>
<path d="M631.5 2 V8 M631.5 10.9 V16.9 M623.9 9.45 H630 M633 9.45 H639.1" stroke="#404040" stroke-width="1.2"/><rect x="631.2" y="9.1" width=".7" height=".7" fill="#404040"/>
<path d="M665.5 3 V15.9 M688 9.45 H699.9" stroke="#404040" stroke-width="1.2"/><path d="M715.6 15.9 L727.8 4" stroke="#505050" stroke-width="1.05"/>
<g stroke="#404040" stroke-width="1" fill="none"><path d="M741.8 10.8 L749.8 3"/><path d="M743.4 15.5 L755.8 6.8"/><path d="M746.5 16 L755.6 8.9"/><path d="M744.6 9 L743.8 14.6 M747 7.4 L746.6 13 M749.6 5.4 L749.4 11 M753.4 1.2 L753.4 8.2" stroke-width=".9"/></g>
<text x="752.4" y="17.9" font-size="7.2" font-weight="bold" fill="#303030">E</text>
<g stroke="#404040" stroke-width="1" stroke-dasharray="1 1" shape-rendering="crispEdges"><path d="M771 2.5 H784 M771 5.5 H784 M771 9.5 H784 M771 13.5 H780"/></g>
<text x="780.6" y="17.9" font-size="7.2" font-weight="bold" fill="#303030">F</text>
<text x="801.3" y="13.9" font-size="12.4" fill="#484848" stroke="#484848" stroke-width=".2">A</text>
<rect x="828.5" y="3.5" width="11" height="12" fill="none" stroke="#505050" stroke-width="1" stroke-dasharray="1 1" shape-rendering="crispEdges"/><rect x="827" y="2" width="2" height="1.4" fill="#505050"/>
<text x="829.9" y="13.9" font-size="11.6" font-weight="bold" fill="#505050">T</text>
<g fill="#484848"><polygon points="858.5,2.6 862.3,6 860.4,7.7 856.6,7.7 854.7,6"/><polygon points="865.7,16.2 869.5,12.8 867.6,11.1 863.8,11.1 861.9,12.8"/><path d="M857.2 10.6 L859.4 12.4 L863.6 7.4" fill="none" stroke="#505050" stroke-width="1.2"/></g>
<polygon points="875.6999999999999,8.1 881.1999999999999,8.1 878.4499999999999,10.95" fill="#000"/>
<text class="tf" transform="translate(902.3,12.9) scale(.925,1)">M1</text>
<text class="tf" transform="translate(930,12.9) scale(.925,1)">M5</text>
<text class="tf" transform="translate(956.2,12.9) scale(.925,1)">M15</text>
<text class="tf" transform="translate(984,12.9) scale(.925,1)">M30</text>
<text class="tf" transform="translate(1015.2,12.9) scale(.925,1)">H1</text>
<text class="tf" transform="translate(1042.2,12.9) scale(.925,1)">H4</text>
<text class="tf" transform="translate(1070.9,12.9) scale(.925,1)">D1</text>
<text class="tf" transform="translate(1098.7,12.9) scale(.925,1)">W1</text>
<text class="tf" transform="translate(1125.4,12.9) scale(.925,1)">MN</text>
<g><path d="M1616 9.2 L1610.9 14" stroke="#2458d0" stroke-width="2.6" stroke-linecap="butt"/><circle cx="1618.8" cy="6.3" r="3.8" fill="#f8f8ff" stroke="#2c64d4" stroke-width="1.2"/></g>
<g><path d="M1635.4 10.6 Q1635.6 6.4 1640.4 6.3 Q1645.4 6.4 1645.4 10.8 Q1645.2 15 1640.6 15.2 L1638.5 17.5 L1638.5 15 Q1635.4 14.4 1635.4 10.6 Z" fill="#e4e6f0" stroke="#a0a0a4" stroke-width=".8"/><ellipse cx="1640" cy="18" rx="5.5" ry=".8" fill="#c8c8c8" opacity=".7"/><circle cx="1649.5" cy="6.8" r="8.1" fill="url(#gBadge)"/><text x="1645.7" y="11.1" font-size="12.8" fill="#fff" stroke="#fff" stroke-width=".5" style="font-family:'Liberation Serif',serif">1</text></g>
</g>
</svg></body></html>
